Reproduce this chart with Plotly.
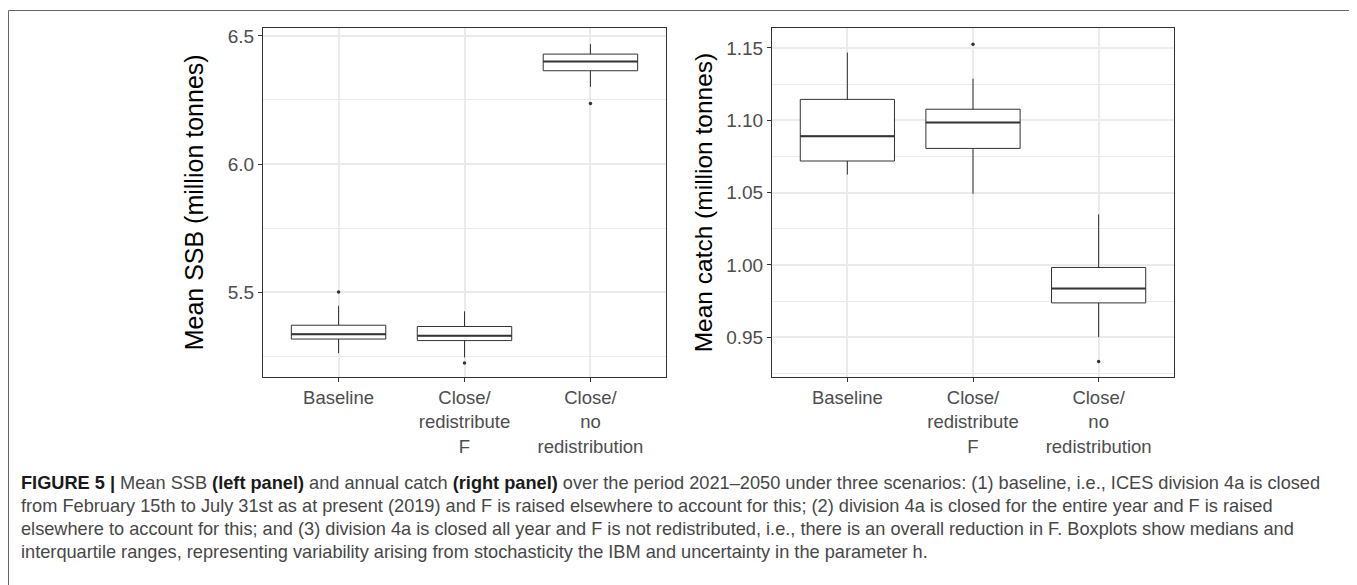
import plotly.graph_objects as go

# ---- data ----
tick_labels = ["Baseline", "Close/<br>redistribute<br>F", "Close/<br>no<br>redistribution"]
positions = [0, 1, 2]

ssb_q1 = [5.317, 5.311, 6.364]
ssb_median = [5.336, 5.330, 6.400]
ssb_q3 = [5.371, 5.366, 6.429]
ssb_lower = [5.262, 5.245, 6.301]
ssb_upper = [5.447, 5.425, 6.468]
ssb_out_pos = [0, 1, 2]
ssb_out_val = [5.501, 5.224, 6.236]

catch_q1 = [1.0718, 1.0805, 0.9737]
catch_median = [1.0890, 1.0984, 0.9836]
catch_q3 = [1.1144, 1.1076, 0.9982]
catch_lower = [1.0624, 1.0491, 0.9500]
catch_upper = [1.1468, 1.1287, 1.0349]
catch_out_pos = [1, 2]
catch_out_val = [1.1525, 0.9331]

B = "<b><span style='color:#1a1a1a'>"
E = "</span></b>"
caption_lines = [
    B + "FIGURE 5 |" + E + " Mean SSB " + B + "(left panel)" + E + " and annual catch " + B + "(right panel)" + E +
    " over the period 2021\u20132050 under three scenarios: (1) baseline, i.e., ICES division 4a is closed",
    "from February 15th to July 31st as at present (2019) and F is raised elsewhere to account for this; (2) division 4a is closed for the entire year and F is raised",
    "elsewhere to account for this; and (3) division 4a is closed all year and F is not redistributed, i.e., there is an overall reduction in F. Boxplots show medians and",
    "interquartile ranges, representing variability arising from stochasticity the IBM and uncertainty in the parameter h.",
]

W, H = 1357, 585
OFF = 8  # page body margin offset


def px(x):
    return (x - OFF) / W


def py(y):
    return 1 - (y - OFF) / H


BOXW = 0.75
LINE = "#333333"
GRID = "#EBEBEB"
FONT = "Liberation Sans, Arial, sans-serif"

fig = go.Figure()


def add_panel(xa, ya, q1, med, q3, lo, hi, opos, oval):
    fig.add_trace(go.Box(
        x=positions, q1=q1, median=med, q3=q3, lowerfence=lo, upperfence=hi,
        width=BOXW, whiskerwidth=0, fillcolor="white",
        line=dict(color=LINE, width=1), boxpoints=False,
        xaxis=xa, yaxis=ya, showlegend=False, hoverinfo="skip"))
    for p, m in zip(positions, med):
        fig.add_trace(go.Scatter(
            x=[p - BOXW / 2, p + BOXW / 2], y=[m, m], mode="lines",
            line=dict(color=LINE, width=2), xaxis=xa, yaxis=ya,
            showlegend=False, hoverinfo="skip"))
    fig.add_trace(go.Scatter(
        x=opos, y=oval, mode="markers",
        marker=dict(color=LINE, size=3.5), xaxis=xa, yaxis=ya,
        showlegend=False, hoverinfo="skip"))


add_panel("x", "y", ssb_q1, ssb_median, ssb_q3, ssb_lower, ssb_upper, ssb_out_pos, ssb_out_val)
add_panel("x2", "y2", catch_q1, catch_median, catch_q3, catch_lower, catch_upper, catch_out_pos, catch_out_val)

xcommon = dict(
    tickmode="array", tickvals=positions, ticktext=tick_labels,
    range=[-0.6, 2.6], showgrid=True, gridcolor=GRID, gridwidth=1.6,
    zeroline=False, showline=True, mirror=True, linecolor=LINE, linewidth=1,
    ticks="outside", ticklen=4, tickcolor=LINE, tickwidth=1.2,
    tickfont=dict(family=FONT, size=18.5, color="#4D4D4D"),
)
ycommon = dict(
    showgrid=True, gridcolor=GRID, gridwidth=1.6, zeroline=False,
    showline=True, mirror=True, linecolor=LINE, linewidth=1,
    ticks="outside", ticklen=4, tickcolor=LINE, tickwidth=1.2,
    tickfont=dict(family=FONT, size=19, color="#4D4D4D"),
    domain=[py(376.5), py(26)],
)

fig.update_layout(
    width=W, height=H,
    margin=dict(l=0, r=0, t=0, b=0),
    paper_bgcolor="white", plot_bgcolor="white",
    font=dict(family=FONT, color="#333333"),
    xaxis=dict(xcommon, domain=[px(263), px(666)], anchor="y"),
    xaxis2=dict(xcommon, domain=[px(772), px(1174)], anchor="y2"),
    yaxis=dict(ycommon, anchor="x", range=[5.168, 6.531],
               tickvals=[5.5, 6.0, 6.5], tickformat=".1f",
               minor=dict(tickvals=[5.25, 5.75, 6.25], showgrid=True, gridcolor=GRID, gridwidth=0.8, ticks="")),
    yaxis2=dict(ycommon, anchor="x2", range=[0.9223, 1.1638],
                tickvals=[0.95, 1.00, 1.05, 1.10, 1.15], tickformat=".2f",
                minor=dict(tickvals=[0.925, 0.975, 1.025, 1.075, 1.125], showgrid=True, gridcolor=GRID, gridwidth=0.8, ticks="")),
)

annotations = [
    dict(text="Mean SSB (million tonnes)", x=px(194), y=py(201), xref="paper", yref="paper",
         textangle=-90, showarrow=False, xanchor="center", yanchor="middle",
         font=dict(family=FONT, size=25, color="black")),
    dict(text="Mean catch (million tonnes)", x=px(703), y=py(201), xref="paper", yref="paper",
         textangle=-90, showarrow=False, xanchor="center", yanchor="middle",
         font=dict(family=FONT, size=24.5, color="black")),
]
cap_y = [483, 505.8, 528.6, 551.4]
for line, yy in zip(caption_lines, cap_y):
    annotations.append(dict(
        text=line, x=px(19), y=py(yy), xref="paper", yref="paper",
        showarrow=False, xanchor="left", yanchor="middle", align="left",
        font=dict(family=FONT, size=18.2, color="#474747")))
fig.update_layout(annotations=annotations)

fig.add_shape(type="rect", xref="paper", yref="paper",
              x0=px(8.5), x1=px(1352), y0=-0.05, y1=py(8.5),
              line=dict(color="#666666", width=1), fillcolor="rgba(0,0,0,0)", layer="below")

fig.write_html("out.html")
